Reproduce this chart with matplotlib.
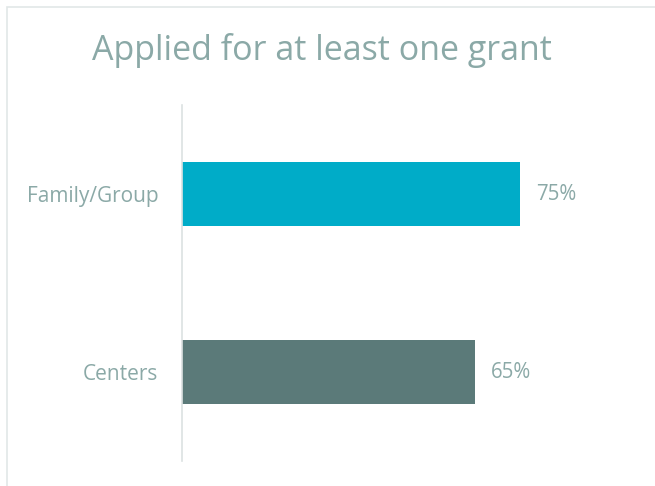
import matplotlib.pyplot as plt
from matplotlib.patches import Rectangle

# chart data
categories = ['Centers', 'Family/Group']
values = [0.65, 0.75]
bar_colors = ['#5B7A79', '#00ACC8']
title = 'Applied for at least one grant'

text_color = '#8BA9A7'
plt.rcParams['font.family'] = ['Open Sans', 'DejaVu Sans']

fig = plt.figure(figsize=(6.55, 4.86), dpi=100)
# light frame around the chart area (right/bottom edges fall outside the image)
fig.patches.append(Rectangle((7 / 655, -0.01), 1.1, (486 - 7) / 486 + 0.01,
                             transform=fig.transFigure, fill=False,
                             edgecolor='#E2E7E7', linewidth=1.2))

ax = fig.add_axes([182 / 655, 25 / 486, 451 / 655, 356 / 486])
ax.barh(categories, values, height=0.365, color=bar_colors)
ax.set_xlim(0, 1.0)
ax.set_ylim(-0.5, 1.5)

for i, v in enumerate(values):
    ax.annotate('{:.0%}'.format(v), (v, i), xytext=(11.5, 0), textcoords='offset points',
                va='center', ha='left', color=text_color, fontsize=14.8)

ax.set_xticks([])
ax.tick_params(axis='y', length=0, pad=17, labelsize=15, labelcolor=text_color)
for s in ['top', 'right', 'bottom']:
    ax.spines[s].set_visible(False)
ax.spines['left'].set_color('#DCE1E1')
ax.spines['left'].set_linewidth(1.2)

fig.text(322 / 655, 1 - 51 / 486, title, ha='center', va='center',
         color=text_color, fontsize=24.5)

plt.savefig('out.png', dpi=100)
